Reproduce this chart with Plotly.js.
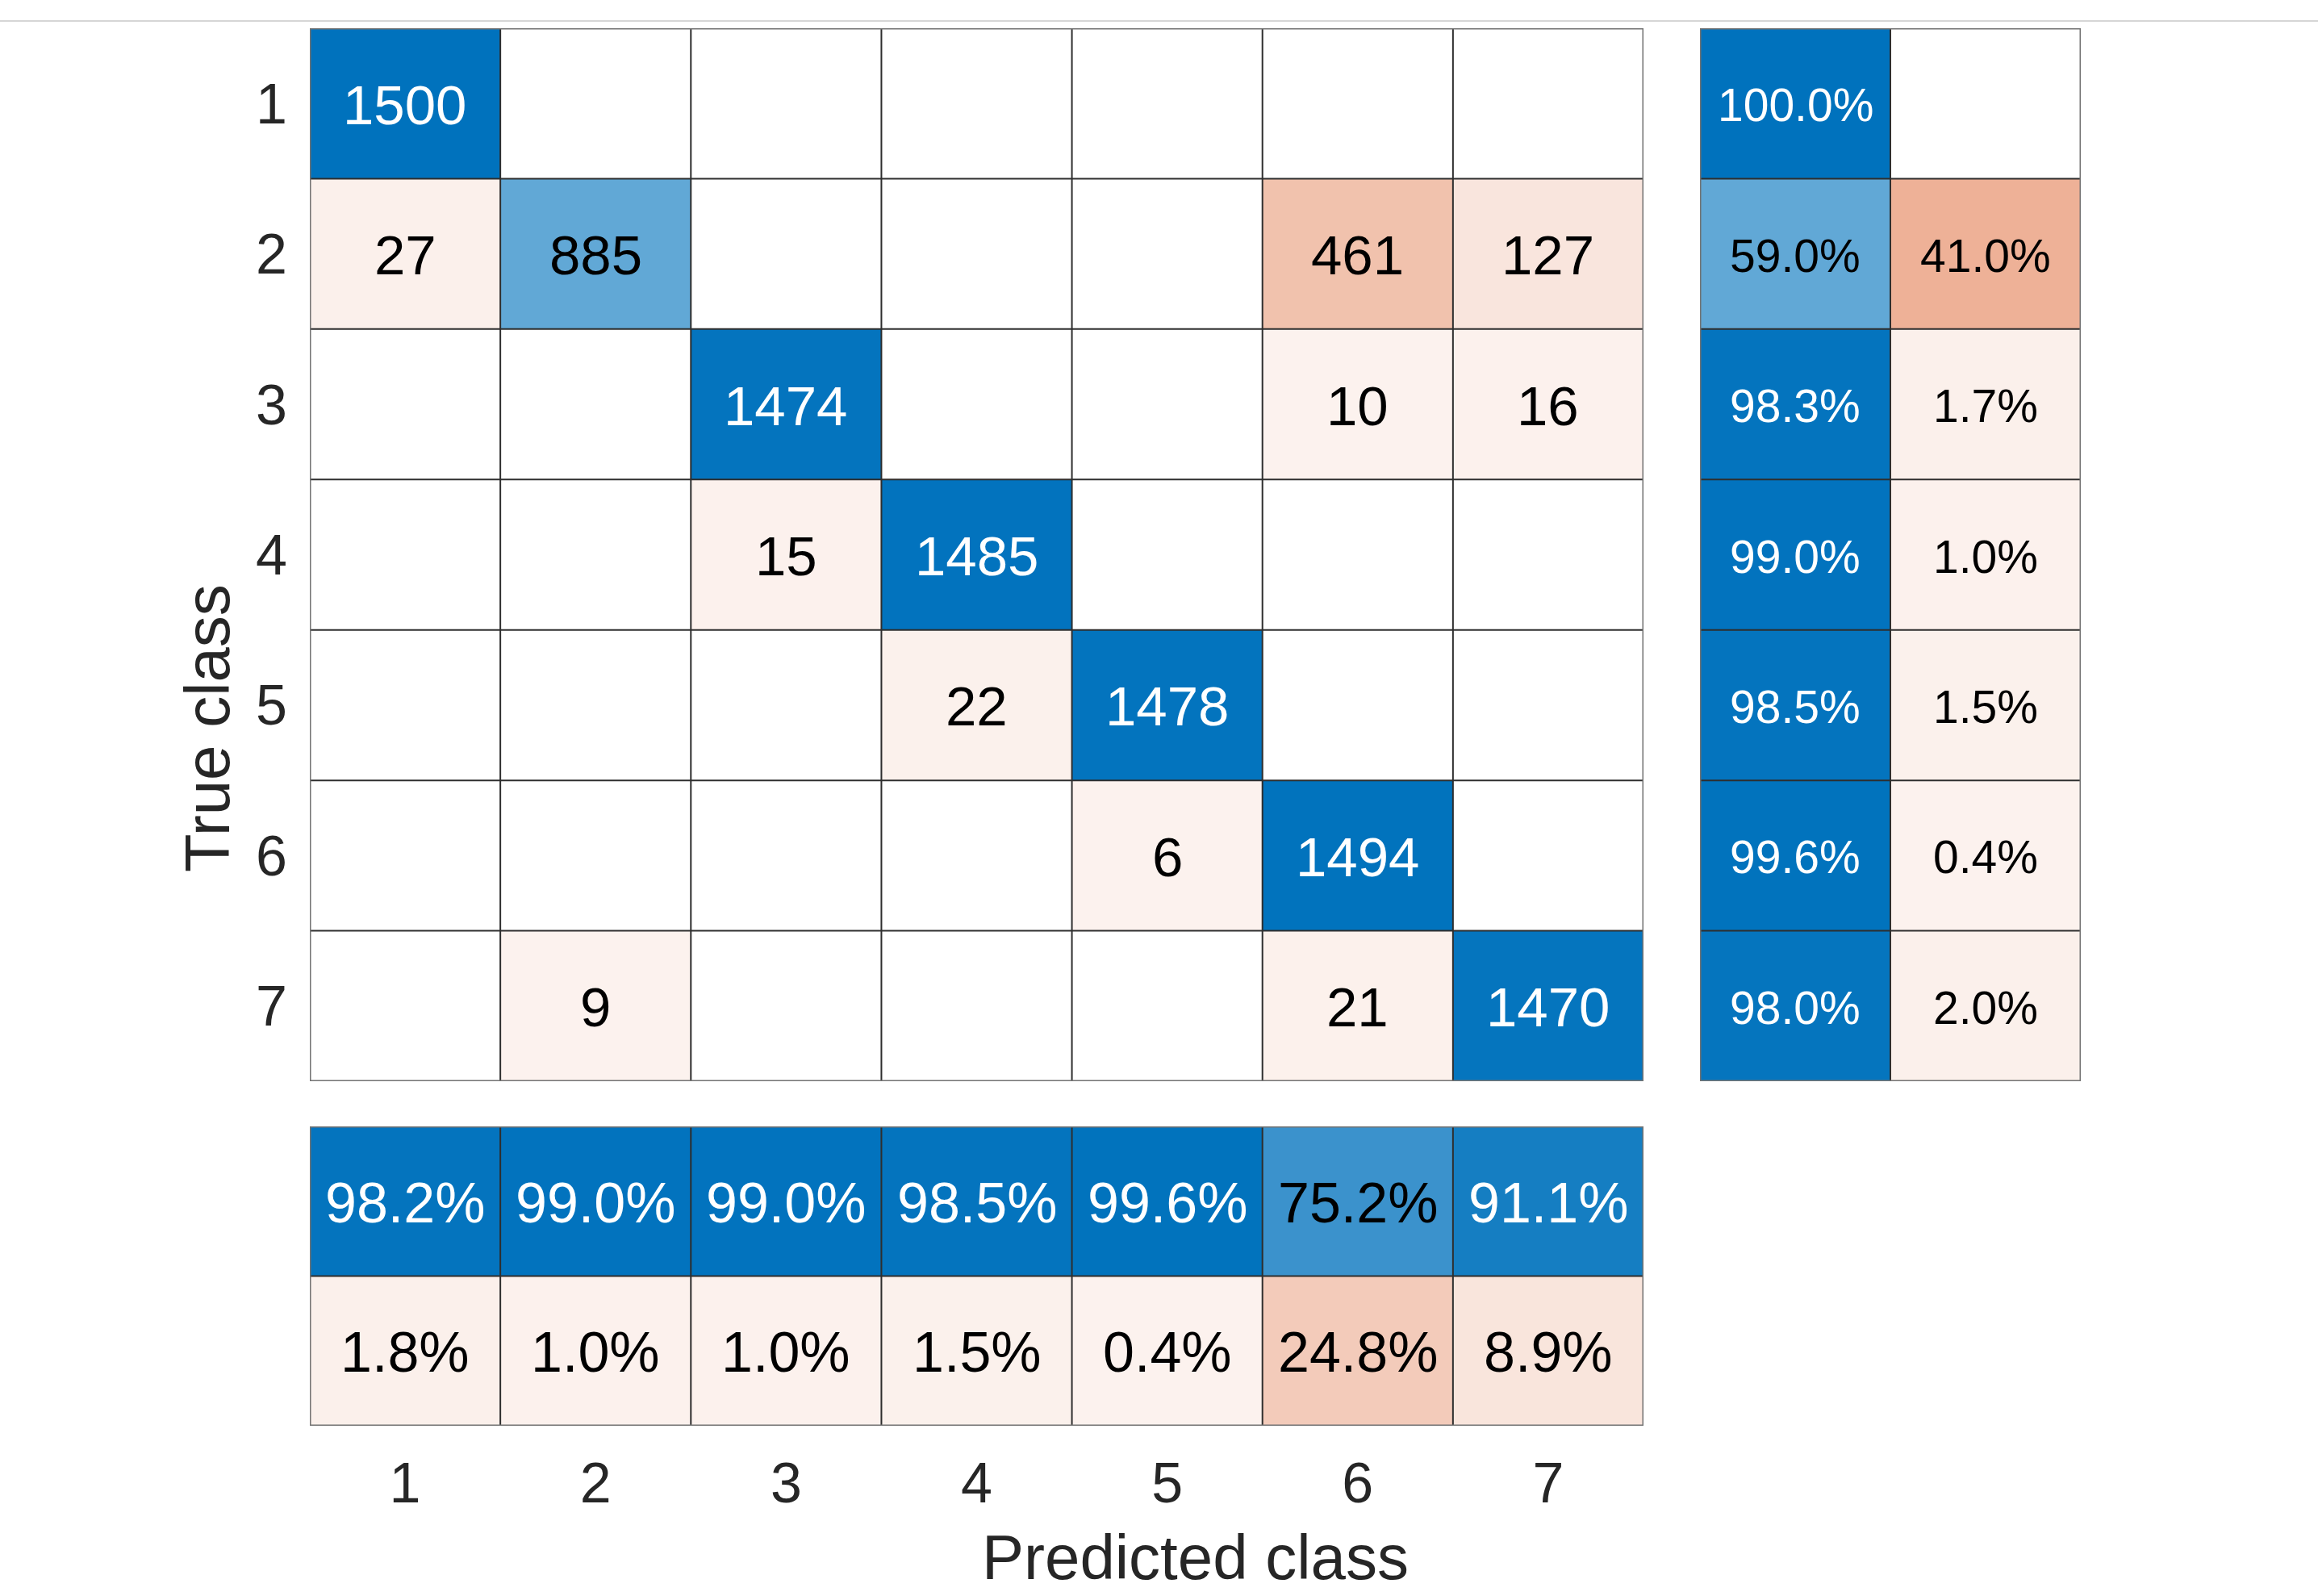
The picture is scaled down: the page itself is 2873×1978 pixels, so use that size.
<!DOCTYPE html>
<html>
<head>
<meta charset="utf-8">
<script src="https://cdn.plot.ly/plotly-3.0.1.min.js"></script>
<style>html,body{margin:0;padding:0;background:#fff;}#chart{width:2873px;height:1978px;}</style>
</head>
<body>
<div id="chart"></div>
<script>
// ---------------- data ----------------
const classLabels = ['1', '2', '3', '4', '5', '6', '7'];
// rows = true class, columns = predicted class
const row1 = [1500, 0, 0, 0, 0, 0, 0];
const row2 = [27, 885, 0, 0, 0, 461, 127];
const row3 = [0, 0, 1474, 0, 0, 10, 16];
const row4 = [0, 0, 15, 1485, 0, 0, 0];
const row5 = [0, 0, 0, 22, 1478, 0, 0];
const row6 = [0, 0, 0, 0, 6, 1494, 0];
const row7 = [0, 9, 0, 0, 0, 21, 1470];
const rowCorrectPct   = [100.0, 59.0, 98.3, 99.0, 98.5, 99.6, 98.0];
const rowIncorrectPct = [0.0, 41.0, 1.7, 1.0, 1.5, 0.4, 2.0];
const colCorrectPct   = [98.2, 99.0, 99.0, 98.5, 99.6, 75.2, 91.1];
const colIncorrectPct = [1.8, 1.0, 1.0, 1.5, 0.4, 24.8, 8.9];

// ---------------- styles ----------------
const counts = [row1, row2, row3, row4, row5, row6, row7];
const n = classLabels.length;
const pos = classLabels.map((c, i) => i + 1);
const FONT = 'Liberation Sans, Arial, Helvetica, sans-serif';
const blueScale = [[0, '#EDF5FA'], [1, '#0072BD']];
const redScale  = [[0, '#FCF3EF'], [1, '#D95319']];
const maxCount = Math.max(...counts.map(r => Math.max(...r)));
const W = 2873, H = 1978;
const px = v => v / W, py = v => 1 - v / H;
const TEXT_SHIFT = -2;

const traces = [];
const annotations = [];
function heat(z, x, y, xa, ya, scale, zmax) {
  return {type: 'heatmap', z: z, x: x, y: y, xaxis: xa, yaxis: ya,
    colorscale: scale, zmin: 0, zmax: zmax, showscale: false, hoverinfo: 'skip'};
}
function label(x, y, text, color, xa, ya, size) {
  annotations.push({xref: xa, yref: ya, x: x, y: y, text: text, showarrow: false,
    xanchor: 'center', yanchor: 'middle', yshift: TEXT_SHIFT,
    font: {family: FONT, size: size, color: color}});
}

// main matrix
const zDiag = counts.map((r, i) => r.map((v, j) => (i === j && v > 0) ? v : null));
const zOff  = counts.map((r, i) => r.map((v, j) => (i !== j && v > 0) ? v : null));
traces.push(heat(zDiag, pos, pos, 'x', 'y', blueScale, maxCount));
traces.push(heat(zOff, pos, pos, 'x', 'y', redScale, maxCount));
counts.forEach((r, i) => r.forEach((v, j) => {
  if (v > 0) label(pos[j], pos[i], String(v), (i === j && v / maxCount > 0.8) ? '#ffffff' : '#000000', 'x', 'y', 69);
}));

// row summary (right)
traces.push(heat(rowCorrectPct.map(v => [v > 0 ? v : null]), [1], pos, 'x2', 'y2', blueScale, 100));
traces.push(heat(rowIncorrectPct.map(v => [v > 0 ? v : null]), [2], pos, 'x2', 'y2', redScale, 100));
rowCorrectPct.forEach((v, i) => { if (v > 0) label(1, pos[i], v.toFixed(1) + '%', v > 80 ? '#ffffff' : '#000000', 'x2', 'y2', 57); });
rowIncorrectPct.forEach((v, i) => { if (v > 0) label(2, pos[i], v.toFixed(1) + '%', '#000000', 'x2', 'y2', 57); });

// column summary (bottom)
traces.push(heat([colCorrectPct.map(v => v > 0 ? v : null)], pos, [1], 'x3', 'y3', blueScale, 100));
traces.push(heat([colIncorrectPct.map(v => v > 0 ? v : null)], pos, [2], 'x3', 'y3', redScale, 100));
colCorrectPct.forEach((v, j) => { if (v > 0) label(pos[j], 1, v.toFixed(1) + '%', v > 80 ? '#ffffff' : '#000000', 'x3', 'y3', 70); });
colIncorrectPct.forEach((v, j) => { if (v > 0) label(pos[j], 2, v.toFixed(1) + '%', '#000000', 'x3', 'y3', 70); });

// grid lines & borders
const shapes = [];
function grid(xref, yref, nx, ny) {
  const lc = '#2e2e2e';
  for (let k = 1; k < nx; k++) shapes.push({type: 'line', xref, yref, x0: k + 0.5, x1: k + 0.5, y0: 0.5, y1: ny + 0.5, line: {color: lc, width: 2}});
  for (let k = 1; k < ny; k++) shapes.push({type: 'line', xref, yref, x0: 0.5, x1: nx + 0.5, y0: k + 0.5, y1: k + 0.5, line: {color: lc, width: 2}});
  shapes.push({type: 'rect', xref, yref, x0: 0.5, x1: nx + 0.5, y0: 0.5, y1: ny + 0.5, line: {color: '#737373', width: 3}});
}
grid('x', 'y', n, n);
grid('x2', 'y2', 2, n);
grid('x3', 'y3', n, 2);
shapes.push({type: 'line', xref: 'paper', yref: 'paper', x0: 0, x1: 1, y0: py(26), y1: py(26), line: {color: '#d6d6d6', width: 2}});

annotations.push(
  {text: 'Predicted class', xref: 'paper', yref: 'paper', x: px(1481), y: py(1930),
    xanchor: 'center', yanchor: 'middle', showarrow: false, font: {family: FONT, size: 78, color: '#262626'}},
  {text: 'True class', xref: 'paper', yref: 'paper', x: px(257), y: py(903), textangle: -90,
    xanchor: 'center', yanchor: 'middle', showarrow: false, font: {family: FONT, size: 78, color: '#262626'}}
);

const hidden = {showgrid: false, zeroline: false, showline: false, showticklabels: false, ticks: '', fixedrange: true};
const mainDomX = [px(384), px(2037)];
const mainDomY = [py(1340), py(35)];
const layout = {
  width: W, height: H,
  margin: {l: 0, r: 0, t: 0, b: 0},
  paper_bgcolor: '#ffffff', plot_bgcolor: '#ffffff',
  font: {family: FONT, color: '#262626'},
  showlegend: false, hovermode: false,
  xaxis: Object.assign({}, hidden, {domain: mainDomX, range: [0.5, n + 0.5], anchor: 'y'}),
  yaxis: Object.assign({}, hidden, {domain: mainDomY, range: [n + 0.5, 0.5], anchor: 'x',
    showticklabels: true, tickmode: 'array', tickvals: pos, ticktext: classLabels,
    ticks: 'outside', ticklen: 13, tickcolor: 'rgba(0,0,0,0)', tickfont: {family: FONT, size: 70, color: '#262626'}}),
  xaxis2: Object.assign({}, hidden, {domain: [px(2107), px(2579)], range: [0.5, 2.5], anchor: 'y2'}),
  yaxis2: Object.assign({}, hidden, {domain: mainDomY, range: [n + 0.5, 0.5], anchor: 'x2'}),
  xaxis3: Object.assign({}, hidden, {domain: mainDomX, range: [0.5, n + 0.5], anchor: 'y3',
    showticklabels: true, tickmode: 'array', tickvals: pos, ticktext: classLabels,
    ticks: 'outside', ticklen: 10, tickcolor: 'rgba(0,0,0,0)', tickfont: {family: FONT, size: 70, color: '#262626'}}),
  yaxis3: Object.assign({}, hidden, {domain: [py(1767), py(1396)], range: [2.5, 0.5], anchor: 'x3'}),
  shapes: shapes,
  annotations: annotations
};
Plotly.newPlot('chart', traces, layout, {displayModeBar: false, staticPlot: true});
</script>
</body>
</html>
